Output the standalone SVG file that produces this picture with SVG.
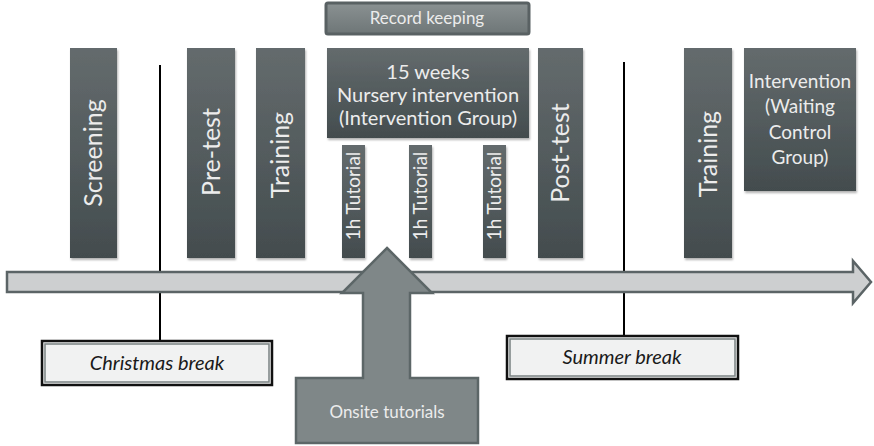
<svg xmlns="http://www.w3.org/2000/svg" width="874" height="446" viewBox="0 0 874 446">
<defs>
<linearGradient id="dark" x1="0" y1="0" x2="0" y2="1">
<stop offset="0" stop-color="#646b6d"/>
<stop offset="1" stop-color="#434c4e"/>
</linearGradient>
<linearGradient id="rec" x1="0" y1="0" x2="0" y2="1">
<stop offset="0" stop-color="#8a9192"/>
<stop offset="1" stop-color="#6e7677"/>
</linearGradient>
<filter id="sh" x="-20%" y="-20%" width="140%" height="140%">
<feDropShadow dx="1" dy="2" stdDeviation="1.2" flood-color="#000" flood-opacity="0.3"/>
</filter>
<style>
.box{fill:url(#dark);filter:url(#sh)}
.t{font-family:Lato,"Open Sans","Liberation Sans",sans-serif;fill:#ececec;text-anchor:middle}
.v{font-size:25px}
.tut{font-size:19px}
.brk{fill:#f1f2f2;stroke:#111;stroke-width:2.5}
.brk2{fill:none;stroke:#7a8283;stroke-width:1.5}
.bt{font-family:Lato,"Open Sans","Liberation Sans",sans-serif;font-style:italic;font-size:20px;fill:#1a1a1a;text-anchor:middle}
.vl{stroke:#000;stroke-width:2}
</style>
</defs>
<g id="connectors">
<line class="vl" x1="160" y1="65" x2="160" y2="341"/>
<line class="vl" x1="624" y1="62" x2="624" y2="336"/>
</g>
<g id="screening">
<rect class="box" x="70" y="48" width="47" height="210"/>
<text class="t v" transform="translate(102,153) rotate(-90)">Screening</text>
</g>
<g id="pretest">
<rect class="box" x="187" y="48" width="48" height="210"/>
<text class="t v" transform="translate(220,152) rotate(-90)">Pre-test</text>
</g>
<g id="training1">
<rect class="box" x="256" y="48" width="49" height="210"/>
<text class="t v" transform="translate(289,155) rotate(-90)">Training</text>
</g>
<g id="record">
<rect x="326" y="3" width="203" height="31" rx="2" fill="url(#rec)" stroke="#596163" stroke-width="3"/>
<text class="t" x="427" y="24" font-size="17">Record keeping</text>
</g>
<g id="nursery">
<rect class="box" x="327" y="48" width="202" height="90"/>
<text class="t" font-size="20"><tspan x="428" y="79">15 weeks</tspan><tspan x="428" y="102">Nursery intervention</tspan><tspan x="428" y="125">(Intervention Group)</tspan></text>
</g>
<g id="tutorial1">
<rect class="box" x="342" y="145" width="23" height="113"/>
<text class="t tut" transform="translate(360,196) rotate(-90)">1h Tutorial</text>
</g>
<g id="tutorial2">
<rect class="box" x="409" y="145" width="23" height="113"/>
<text class="t tut" transform="translate(427,196) rotate(-90)">1h Tutorial</text>
</g>
<g id="tutorial3">
<rect class="box" x="483" y="145" width="23" height="113"/>
<text class="t tut" transform="translate(501,196) rotate(-90)">1h Tutorial</text>
</g>
<g id="posttest">
<rect class="box" x="538" y="48" width="45" height="210"/>
<text class="t v" transform="translate(569,153) rotate(-90)">Post-test</text>
</g>
<g id="training2">
<rect class="box" x="684" y="48" width="48" height="210"/>
<text class="t v" transform="translate(717,154) rotate(-90)">Training</text>
</g>
<g id="waiting">
<rect class="box" x="744" y="48" width="112" height="143"/>
<text class="t" font-size="19"><tspan x="800" y="88">Intervention</tspan><tspan x="800" y="113">(Waiting</tspan><tspan x="800" y="139">Control</tspan><tspan x="800" y="164">Group)</tspan></text>
</g>
<g id="timeline">
<path d="M7,272 H853 V261 L871,282 L853,303 V292 H7 Z" fill="#cdcfd0" stroke="#5b6466" stroke-width="2.5" stroke-linejoin="miter"/>
</g>
<g id="christmas">
<rect class="brk" x="42" y="341" width="230" height="44"/>
<rect class="brk2" x="45" y="344" width="224" height="38"/>
<text class="bt" x="157" y="370">Christmas break</text>
</g>
<g id="summer">
<rect class="brk" x="507" y="336" width="231" height="43"/>
<rect class="brk2" x="510" y="339" width="225" height="37"/>
<text class="bt" x="622" y="364">Summer break</text>
</g>
<g id="onsite">
<path d="M387,248 L432,293 H410 V378 H478 V443 H296 V378 H363 V293 H342 Z" fill="#7f8788" stroke="#5c6667" stroke-width="2.5" stroke-linejoin="miter"/>
<text class="t" x="387" y="418" font-size="17" fill="#dde0e0">Onsite tutorials</text>
</g>
</svg>
